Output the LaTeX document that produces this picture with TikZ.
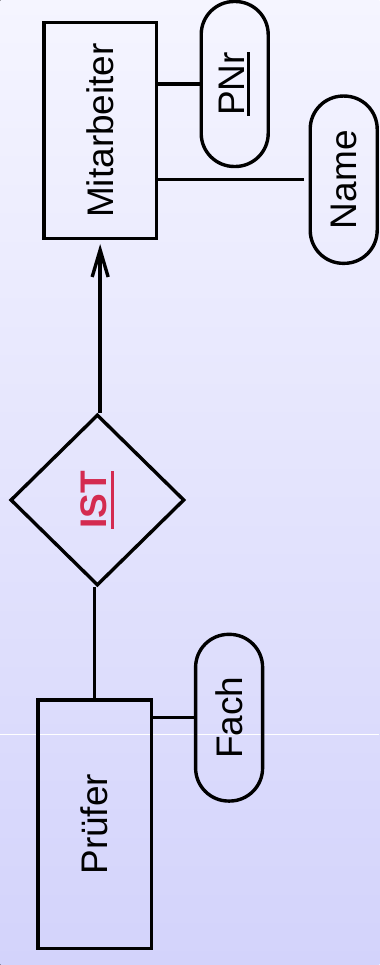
\documentclass[tikz,border=0pt]{standalone}
\usepackage{fontspec}
\setmainfont{Liberation Sans}
\usepackage{tikz}
\usetikzlibrary{arrows.meta, shapes.geometric}

\definecolor{bgtop}{HTML}{F5F5FF}
\definecolor{bgbottom}{HTML}{D3D3FB}
\definecolor{istred}{HTML}{D42B50}
\newcommand{\erfont}{\fontsize{37}{44}\selectfont}
% key underline: thick rule a bit below the baseline
\newcommand{\keyword}[2]{\setbox0\hbox{#2}\rlap{\rule[-#1]{\wd0}{3.2pt}}\box0}

\begin{document}
\begin{tikzpicture}[x=1pt, y=-1pt, line width=3.4pt,
  entity/.style={draw, rectangle, inner sep=0pt, font=\erfont},
  attr/.style={draw, rectangle, rounded corners=33pt, inner sep=0pt, minimum width=67pt, font=\erfont},
  rel/.style={draw, diamond, inner sep=0pt, minimum width=174pt, minimum height=171pt, font=\erfont\bfseries, text=istred},
  isa/.style={-{Straight Barb[length=27pt, width=16pt]}, shorten >=4pt}]

  % background
  \fill[top color=bgtop, bottom color=bgbottom, draw=none] (0,0) rectangle (379,965);
  \draw[white, line width=0.8pt] (0,734) -- (379,734);
  \useasboundingbox (0,0) rectangle (379,965);

  % Mitarbeiter with attributes
  \node[entity, minimum width=112.5pt, minimum height=215.6pt] (mit) at (99.75,130.5) {\rotatebox{90}{Mitarbeiter}};
  \node[attr, minimum height=165pt] (pnr) at (234.3,84) {\rotatebox{90}{\keyword{6pt}{PNr}}};
  \node[attr, minimum height=167.3pt] (name) at (343.3,179.7) {\rotatebox{90}{Name}};
  \draw (pnr.west -| mit.east) -- (pnr.west);
  \draw[shorten >=5pt] (name.west -| mit.east) -- (name.west);

  % IST relationship
  \node[rel] (ist) at (97,500) {\rotatebox{90}{\keyword{8pt}{IST}}};
  \draw[isa] (ist.north -| mit.south) -- (mit.south);

  % Pruefer with attribute
  \node[entity, minimum width=113.3pt, minimum height=248.3pt] (pruef) at (94.3,824.2) {\rotatebox{90}{Prüfer}};
  \node[attr, minimum height=166.7pt] (fach) at (228.7,717.7) {\rotatebox{90}{Fach}};
  \draw (fach.west -| pruef.east) -- (fach.west);
  \draw (ist.south -| pruef.north) -- (pruef.north);
\end{tikzpicture}
\end{document}
